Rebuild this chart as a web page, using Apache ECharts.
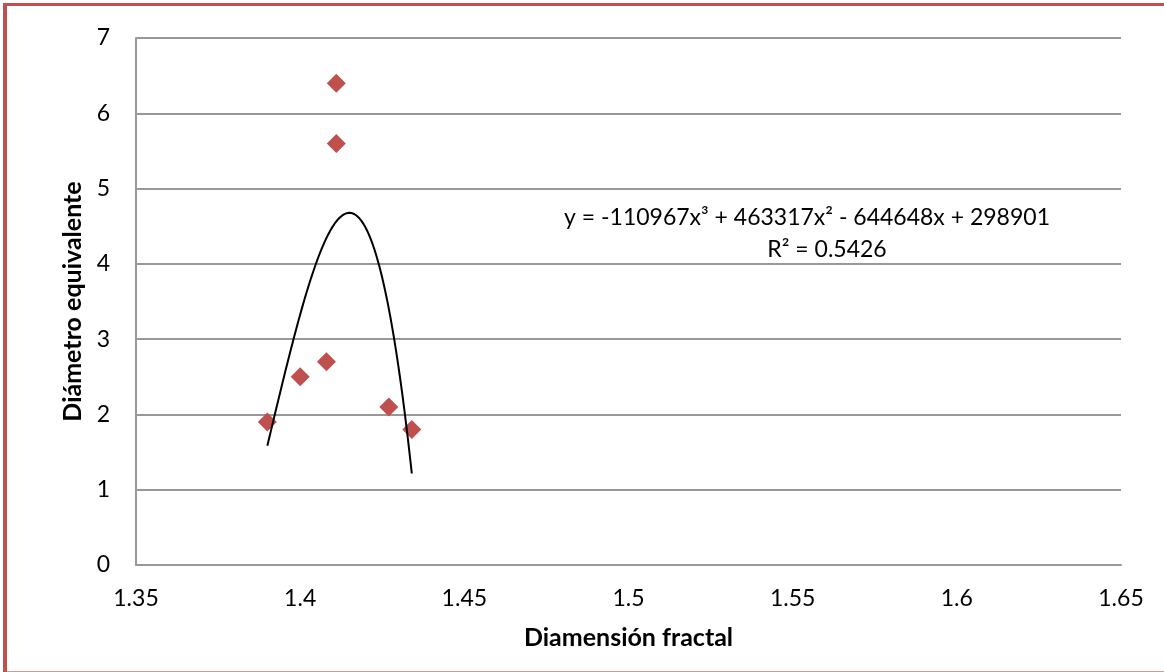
<!DOCTYPE html>
<html>
<head>
<meta charset="utf-8">
<title>Diámetro equivalente vs Diamensión fractal</title>
<script src="https://cdn.jsdelivr.net/npm/echarts@6/dist/echarts.min.js"></script>
<style>
  html, body { margin: 0; padding: 0; background: #ffffff; }
  #frame { position: relative; width: 1164px; height: 672px; overflow: hidden; background: #ffffff; }
  #chart { position: absolute; left: 0; top: 0; width: 1164px; height: 672px; }
  .edge { position: absolute; background: #c0504d; }
</style>
</head>
<body>
<div id="frame">
  <div id="chart"></div>
  <div class="edge" style="left:3px;top:3px;width:1161px;height:3px"></div>
  <div class="edge" style="left:3px;top:3px;width:4px;height:669px"></div>
  <div class="edge" style="left:3px;top:671px;width:1161px;height:1px;opacity:0.6"></div>
</div>
<script>
// Measured samples: fractal dimension vs equivalent diameter
const fractalDim = [1.390, 1.400, 1.408, 1.411, 1.411, 1.427, 1.434];
const equivDiam  = [1.9,   2.5,   2.7,   6.4,   5.6,   2.1,   1.8];

// Axis ranges / tick steps
const xRange = [1.35, 1.65];
const xStep = 0.05;
const yRange = [0, 7];
const yStep = 1;

// Trendline annotation text
const trendEquation = 'y = -110967x³ + 463317x² - 644648x + 298901';
const trendR2 = 'R² = 0.5426';

const FONT = 'Lato, "Open Sans", sans-serif';
const RED = '#c0504d';
const GRID = '#989898';

// Least-squares cubic fit of the samples (x centred for numerical stability)
function cubicFit(xs, ys) {
  const n = xs.length;
  const mx = xs.reduce((a, b) => a + b, 0) / n;
  const deg = 3;
  const A = [];
  for (let r = 0; r <= deg; r++) {
    A.push(new Array(deg + 2).fill(0));
  }
  for (let i = 0; i < n; i++) {
    const u = xs[i] - mx;
    for (let r = 0; r <= deg; r++) {
      for (let c = 0; c <= deg; c++) A[r][c] += Math.pow(u, r + c);
      A[r][deg + 1] += ys[i] * Math.pow(u, r);
    }
  }
  // Gaussian elimination with partial pivoting
  for (let c = 0; c <= deg; c++) {
    let p = c;
    for (let r = c + 1; r <= deg; r++) if (Math.abs(A[r][c]) > Math.abs(A[p][c])) p = r;
    [A[c], A[p]] = [A[p], A[c]];
    for (let r = 0; r <= deg; r++) {
      if (r === c) continue;
      const f = A[r][c] / A[c][c];
      for (let k = c; k <= deg + 1; k++) A[r][k] -= f * A[c][k];
    }
  }
  const coef = A.map((row, i) => row[deg + 1] / row[i]);
  return x => {
    const u = x - mx;
    return coef[0] + coef[1] * u + coef[2] * u * u + coef[3] * u * u * u;
  };
}

const trend = cubicFit(fractalDim, equivDiam);
const xLo = Math.min(...fractalDim), xHi = Math.max(...fractalDim);
const trendPts = [];
const steps = 120;
for (let i = 0; i <= steps; i++) {
  const x = xLo + (xHi - xLo) * i / steps;
  trendPts.push([x, trend(x)]);
}

const chart = echarts.init(document.getElementById('chart'), null, { renderer: 'canvas' });

chart.setOption({
  animation: false,
  backgroundColor: 'transparent',
  grid: { left: 136, top: 38, width: 985, height: 527, containLabel: false },
  xAxis: {
    type: 'value',
    min: xRange[0], max: xRange[1], interval: xStep,
    name: 'Diamensión fractal',
    nameLocation: 'middle',
    nameGap: 60,
    nameTextStyle: { fontFamily: FONT, fontSize: 25, fontWeight: 'bold', color: '#000' },
    axisLine: { show: true, lineStyle: { color: GRID, width: 2 } },
    axisTick: { show: false },
    splitLine: { show: false },
    axisLabel: {
      margin: 22, fontFamily: FONT, fontSize: 23, color: '#000',
      formatter: v => String(+v.toFixed(2))
    }
  },
  yAxis: {
    type: 'value',
    min: yRange[0], max: yRange[1], interval: yStep,
    name: 'Diámetro equivalente',
    nameLocation: 'middle',
    nameRotate: 90,
    nameGap: 47,
    nameTextStyle: { fontFamily: FONT, fontSize: 25, fontWeight: 'bold', color: '#000' },
    axisLine: { show: true, lineStyle: { color: GRID, width: 2 } },
    axisTick: { show: false },
    splitLine: { show: true, lineStyle: { color: GRID, width: 2 } },
    axisLabel: { margin: 26, fontFamily: FONT, fontSize: 23, color: '#000' }
  },
  series: [
    {
      name: 'Diámetro equivalente',
      type: 'scatter',
      data: fractalDim.map((x, i) => [x, equivDiam[i]]),
      symbol: 'diamond',
      symbolSize: [19, 19],
      itemStyle: { color: RED, opacity: 1 },
      z: 3
    },
    {
      name: 'Tendencia polinómica',
      type: 'line',
      data: trendPts,
      showSymbol: false,
      smooth: false,
      lineStyle: { color: '#000', width: 2 },
      z: 4
    }
  ],
  graphic: [
    {
      type: 'text', x: 807, y: 218,
      style: { text: trendEquation, fontFamily: FONT, fontSize: 23, fill: '#000', textAlign: 'center', textVerticalAlign: 'middle' }
    },
    {
      type: 'text', x: 827, y: 250,
      style: { text: trendR2, fontFamily: FONT, fontSize: 23, fill: '#000', textAlign: 'center', textVerticalAlign: 'middle' }
    }
  ]
});
</script>
</body>
</html>
